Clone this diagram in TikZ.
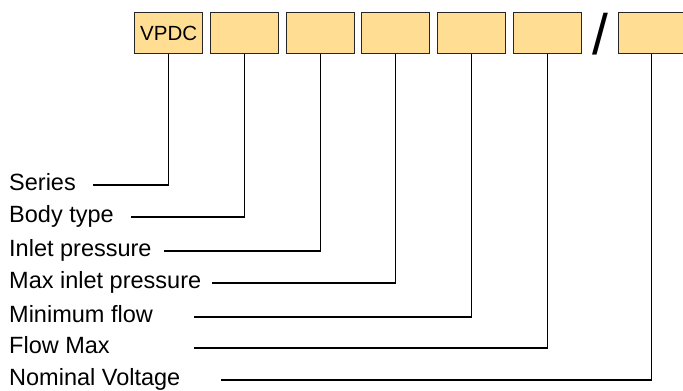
\documentclass[tikz,border=0pt]{standalone}
\usepackage{fontspec}
\setmainfont{Liberation Sans}
\begin{document}
\begin{tikzpicture}[x=1pt,y=-1pt,
  codebox/.style={draw=black!85, line width=1.3pt, fill=boxfill, minimum width=68pt, minimum height=41pt, inner sep=0pt, anchor=north west},
  lbl/.style={anchor=base west, inner sep=0pt, font=\fontsize{23.5}{26}\selectfont},
  conn/.style={draw=black, line width=1.1pt}]
\definecolor{boxfill}{HTML}{FFDE93}
\useasboundingbox (0,0) rectangle (683,391);
% boxes
\node[codebox] (b1) at (134,12) {\fontsize{20.5}{23}\selectfont VPDC};
\node[codebox] (b2) at (210,12) {};
\node[codebox] (b3) at (285.5,12) {};
\node[codebox] (b4) at (361,12) {};
\node[codebox] (b5) at (436.5,12) {};
\node[codebox] (b6) at (512.5,12) {};
\node[anchor=base, inner sep=0pt, font=\fontsize{57}{60}\selectfont] (sl) at (600,54) {/};
\node[codebox, minimum width=66pt] (b7) at (618,12) {};
% labels
\node[lbl] (l1) at (9,190.5) {Series};
\node[lbl] (l2) at (9,222.5) {Body type};
\node[lbl] (l3) at (9,256.5) {Inlet pressure};
\node[lbl] (l4) at (9,288.5) {Max inlet pressure};
\node[lbl] (l5) at (9,322.5) {Minimum flow};
\node[lbl] (l6) at (9,353.5) {Flow Max};
\node[lbl] (l7) at (9,385.5) {Nominal Voltage};
% line starts
\coordinate (c1) at (93,185);
\coordinate (c2) at (131,217);
\coordinate (c3) at (164,251);
\coordinate (c4) at (212,283);
\coordinate (c5) at (194,317);
\coordinate (c6) at (194,348);
\coordinate (c7) at (221,380);
\draw[conn] (c1) -| (b1.south);
\draw[conn] (c2) -| (b2.south);
\draw[conn] (c3) -| (b3.south);
\draw[conn] (c4) -| (b4.south);
\draw[conn] (c5) -| (b5.south);
\draw[conn] (c6) -| (b6.south);
\draw[conn] (c7) -| (b7.south);
\end{tikzpicture}
\end{document}
